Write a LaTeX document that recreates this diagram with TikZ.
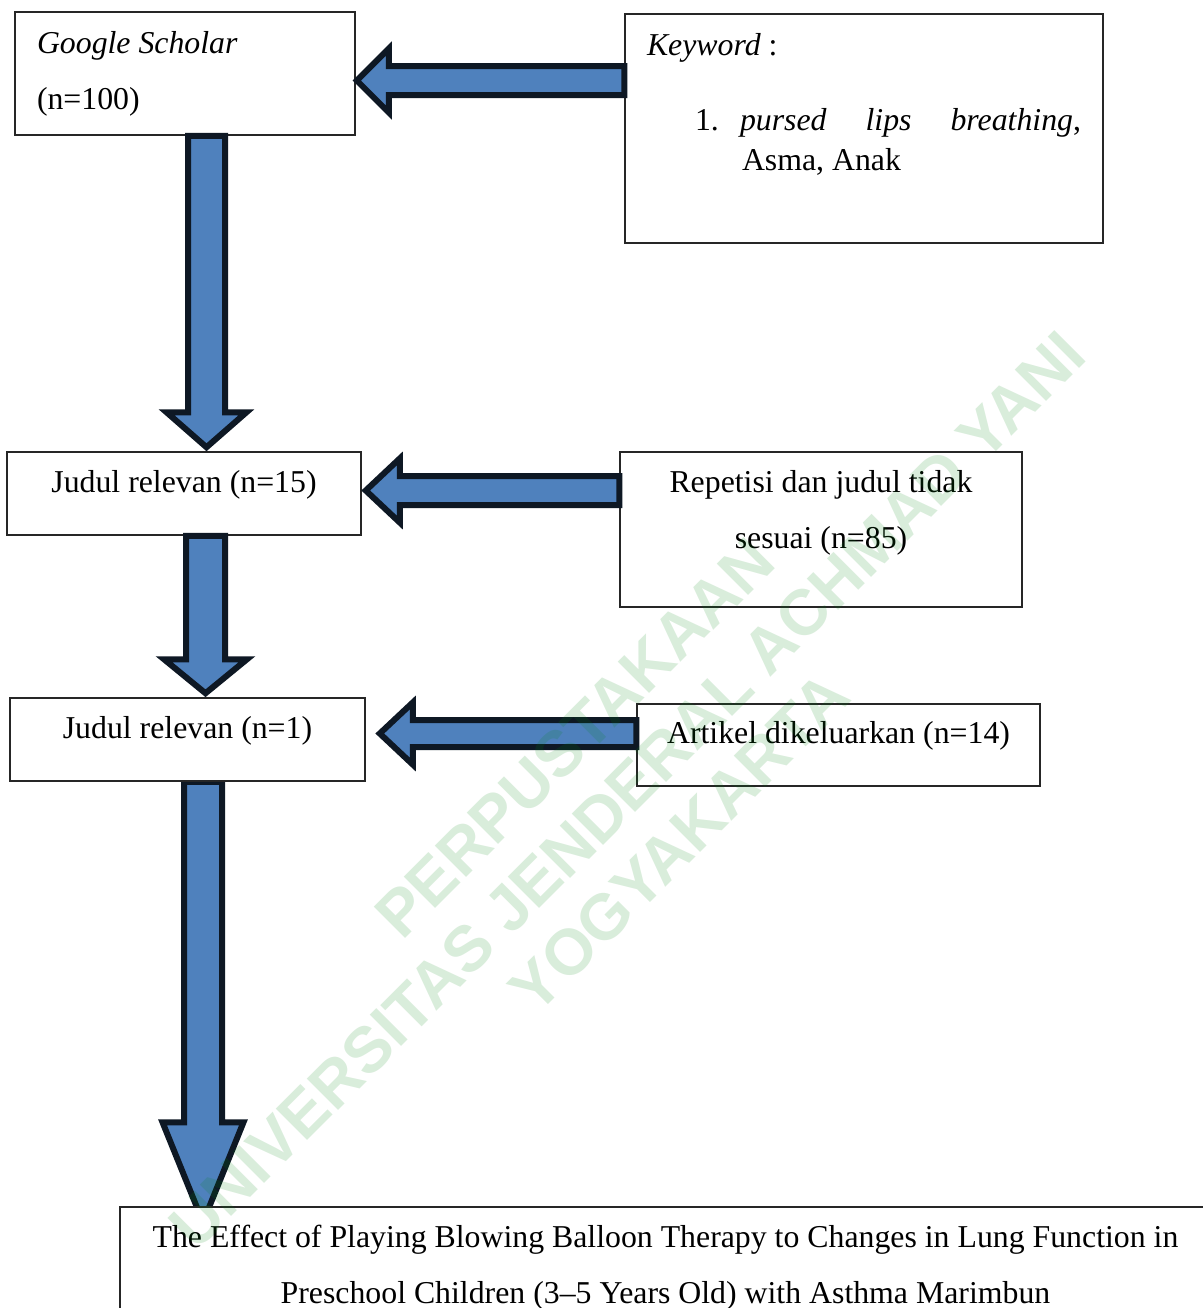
\documentclass[tikz,border=0pt]{standalone}
\usepackage{fontspec}
\setmainfont{Liberation Serif}
\newfontfamily\wmfont{Liberation Sans}
\usetikzlibrary{calc,backgrounds}

\definecolor{arrowfill}{RGB}{79,129,189}
\definecolor{arrowline}{RGB}{14,24,36}
\definecolor{wmgreen}{RGB}{0,135,20}

\newcommand{\bodysize}{\fontsize{15.9pt}{28pt}\selectfont}
% tail, tip, shaft half width, head half width, head length
\newcommand{\fatarrow}[5]{%
  \coordinate (fa-b) at ($(#2)!#5!(#1)$);
  \draw[arrowbody] ($(#1)!#3!90:(#2)$) -- ($(fa-b)!#3!90:(#2)$) -- ($(fa-b)!#4!90:(#2)$)
    -- (#2) -- ($(fa-b)!#4!-90:(#2)$) -- ($(fa-b)!#3!-90:(#2)$) -- ($(#1)!#3!-90:(#2)$) -- cycle;
}

\begin{document}
\begin{tikzpicture}
    [x=0.5pt,y=-0.5pt,
     box/.style={draw=black!85,line width=0.75pt,fill=white,inner xsep=0pt,inner ysep=0pt,font=\bodysize},
     arrowbody/.style={fill=arrowfill,draw=arrowline,line width=3pt}]
    \useasboundingbox (0,0) rectangle (1203,1308);

    \node[box,align=flush left,text width=148pt,inner xsep=11pt,text height=20.5pt,text depth=41pt] (gs) at (185,73.5) {\textit{Google Scholar}\\(n=100)};
    \node[box,align=flush left,text width=217pt,inner xsep=11pt,text height=20.5pt,text depth=94pt,
          font=\fontsize{15.9pt}{20pt}\selectfont] (kw) at (864,128.5)
          {\textit{Keyword} :\\[17.5pt]
           \hspace*{24pt}\makebox[22.5pt][l]{1.}\makebox[170.5pt][s]{\textit{pursed}\hfill\textit{lips}\hfill\textit{breathing},}\\
           \hspace*{47.5pt}Asma, Anak};
    \node[box,minimum width=177pt,text height=20pt,text depth=21.5pt] (j15) at (184,493.5) {Judul relevan (n=15)};
    \node[box,align=flush center,text width=201pt,text height=20pt,text depth=57.5pt] (rep) at (821,529.5) {Repetisi dan judul tidak\\sesuai (n=85)};
    \node[box,minimum width=177.5pt,text height=20pt,text depth=21.5pt] (j1) at (187.5,739.5) {Judul relevan (n=1)};
    \node[box,minimum width=201.5pt,text height=19.5pt,text depth=21.5pt] (art) at (838.5,745) {Artikel dikeluarkan (n=14)};
    \node[box,align=flush center,text width=545.5pt,text height=20pt,text depth=36.5pt] (fin) at (665.5,1263.5)
          {The Effect of Playing Blowing Balloon Therapy to Changes in Lung Function in\\Preschool Children (3--5 Years Old) with Asthma Marimbun};

    \coordinate (a1e) at ($(gs.east)+(1,7)$);
    \coordinate (a1s) at (kw.west |- a1e);
    \fatarrow{a1s}{a1e}{7.25pt}{16pt}{16pt}

    \coordinate (v1s) at ($(gs.south)+(21.5,0)$);
    \coordinate (v1e) at ($(v1s |- j15.north)+(0,-4)$);
    \fatarrow{v1s}{v1e}{9.25pt}{20pt}{17.5pt}

    \coordinate (a2e) at ($(j15.east)+(4,-3)$);
    \coordinate (a2s) at (rep.west |- a2e);
    \fatarrow{a2s}{a2e}{7.25pt}{16pt}{17pt}

    \coordinate (v2s) at ($(j15.south)+(21.5,0)$);
    \coordinate (v2e) at ($(v2s |- j1.north)+(0,-4)$);
    \fatarrow{v2s}{v2e}{9.75pt}{20.75pt}{17pt}

    \coordinate (a3e) at ($(j1.east)+(14,-6)$);
    \coordinate (a3s) at (art.west |- a3e);
    \fatarrow{a3s}{a3e}{6.75pt}{15.5pt}{16.5pt}

    % last arrow runs under the result box
    \coordinate (v3s) at ($(j1.south)+(15.5,0)$);
    \coordinate (v3e) at ($(v3s |- fin.north)+(0,16)$);
    \begin{scope}[on background layer]
      \fill[white] (0,0) rectangle (1203,1308);
      \fatarrow{v3s}{v3e}{9.5pt}{20.25pt}{50pt}
    \end{scope}

    \node[rotate=45,align=center,text=wmgreen,text opacity=0.15,
          font=\wmfont\bfseries\fontsize{32.2pt}{37pt}\selectfont] (wm) at (627,790)
          {PERPUSTAKAAN\\UNIVERSITAS JENDERAL ACHMAD YANI\\YOGYAKARTA};
\end{tikzpicture}
\end{document}
